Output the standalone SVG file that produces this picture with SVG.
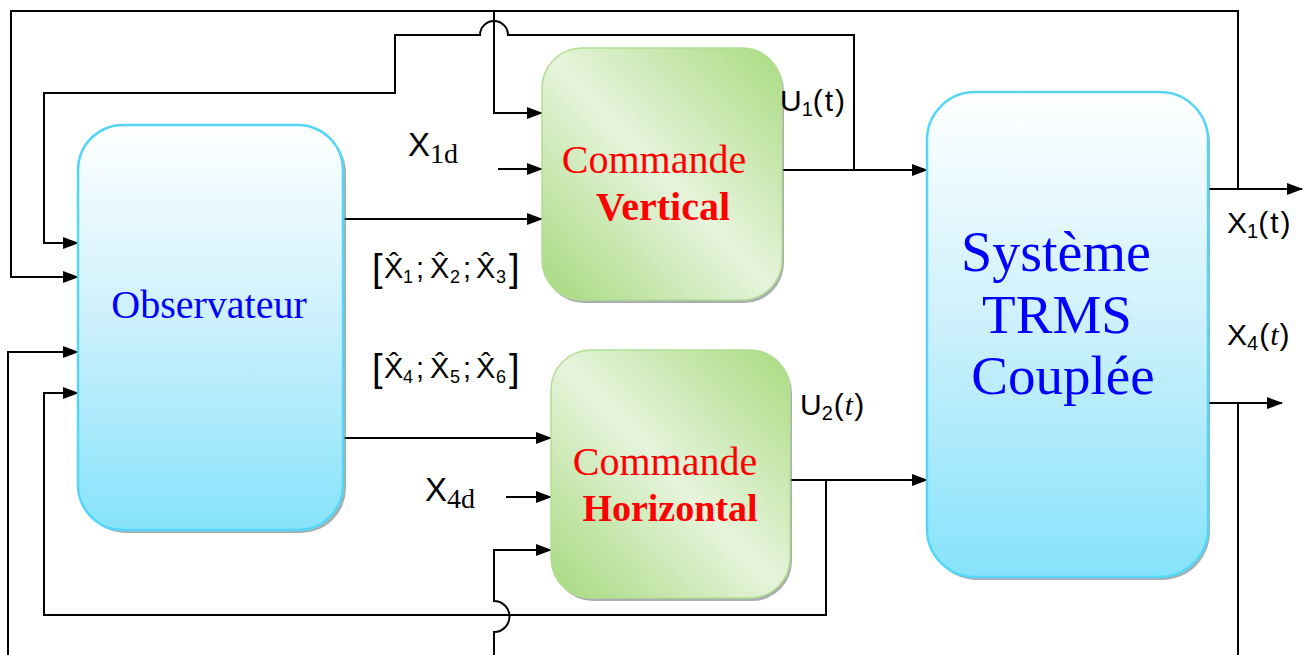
<svg xmlns="http://www.w3.org/2000/svg" width="1308" height="655" viewBox="0 0 1308 655">
<style>
.wire{fill:none;stroke:#000;stroke-width:2}
.arr{marker-end:url(#ah)}
.blue{stroke:#55d6f8;stroke-width:2.5}
.green{stroke:#b2de92;stroke-width:1.5}
.shadow{fill:#6f7a7b;opacity:.6}
.tnr{font-family:"Liberation Serif",serif}
.lbl{font-family:"Liberation Sans",sans-serif;fill:#000}
.sub{font-family:"Liberation Serif",serif}
</style>
<defs>
<marker id="ah" markerWidth="16" markerHeight="12" refX="15" refY="6" orient="auto" markerUnits="userSpaceOnUse">
<path d="M0,0 L16,6 L0,12 z" fill="#000"/>
</marker>
<linearGradient id="gB" x1="0" y1="0" x2="0" y2="1">
<stop offset="0" stop-color="#ffffff"/>
<stop offset="0.5" stop-color="#caf0fc"/>
<stop offset="1" stop-color="#86e3fb"/>
</linearGradient>
<linearGradient id="gG" x1="1" y1="0" x2="0" y2="1">
<stop offset="0" stop-color="#a9db80"/>
<stop offset="0.5" stop-color="#e6f4dc"/>
<stop offset="1" stop-color="#a6d97e"/>
</linearGradient>
</defs>

<g id="connectors">
<path class="wire arr" d="M1208,189 H1302"/>
<path class="wire arr" d="M1238,189 V11 H11 V277 H78"/>
<path class="wire arr" d="M494,11 V113 H542"/>
<path class="wire arr" d="M782,170 H927"/>
<path class="wire arr" d="M854,170 V35 H508 A14,14 0 0 0 480,35 H395 V93 H44 V243 H78"/>
<path class="wire arr" d="M343,219 H542"/>
<path class="wire arr" d="M498,169 H542"/>
<path class="wire arr" d="M343,438 H551"/>
<path class="wire arr" d="M506,497 H551"/>
<path class="wire arr" d="M790,480 H927"/>
<path class="wire arr" d="M826,480 V615 H44 V393 H78"/>
<path class="wire arr" d="M1208,403 H1282"/>
<path class="wire" d="M1238,403 V655"/>
<path class="wire arr" d="M8,655 V352 H78"/>
<path class="wire arr" d="M494,655 V632 A15.5,15.5 0 0 0 494,601 V550 H551"/>
</g>

<g id="observateur">
<rect class="shadow" x="81" y="128" width="265" height="405" rx="45"/>
<rect class="blue" x="78" y="125" width="265" height="405" rx="45" fill="url(#gB)"/>
<text class="tnr" x="209" y="318" font-size="40" fill="#0000ff" text-anchor="middle">Observateur</text>
</g>

<g id="commande-vertical">
<rect class="shadow" x="544" y="51" width="240" height="252" rx="40"/>
<rect class="green" x="542" y="48" width="240" height="252" rx="40" fill="url(#gG)"/>
<text class="tnr" x="654" y="173" font-size="40" fill="#ff0000" text-anchor="middle">Commande</text>
<text class="tnr" x="663" y="220" font-size="40" font-weight="bold" fill="#ff0000" text-anchor="middle">Vertical</text>
</g>

<g id="commande-horizontal">
<rect class="shadow" x="553" y="353" width="239" height="248" rx="40"/>
<rect class="green" x="551" y="350" width="239" height="248" rx="40" fill="url(#gG)"/>
<text class="tnr" x="665" y="475" font-size="40" fill="#ff0000" text-anchor="middle">Commande</text>
<text class="tnr" x="670" y="521" font-size="38" font-weight="bold" fill="#ff0000" text-anchor="middle">Horizontal</text>
</g>

<g id="systeme">
<rect class="shadow" x="929" y="95" width="281" height="485" rx="48"/>
<rect class="blue" x="927" y="92" width="281" height="485" rx="48" fill="url(#gB)"/>
<text class="tnr" x="1056" y="271" font-size="56" fill="#0000ff" text-anchor="middle">Système</text>
<text class="tnr" x="1057" y="333" font-size="55" fill="#0000ff" text-anchor="middle">TRMS</text>
<text class="tnr" x="1063" y="394" font-size="55" fill="#0000ff" text-anchor="middle">Couplée</text>
</g>

<g id="labels">
<text class="lbl" x="408" y="156" font-size="33">X<tspan class="sub" font-size="28" dy="7">1d</tspan></text>
<text class="lbl" x="425" y="501" font-size="33">X<tspan class="sub" font-size="28" dy="7">4d</tspan></text>
<text class="lbl" font-size="29" y="278"><tspan x="372" font-size="38" dy="3">[</tspan><tspan x="384" dy="-3">X̂</tspan><tspan x="403" font-size="18" dy="5">1</tspan><tspan x="416" dy="-5">;</tspan><tspan x="430">X̂</tspan><tspan x="450" font-size="18" dy="5">2</tspan><tspan x="463" dy="-5">;</tspan><tspan x="476">X̂</tspan><tspan x="496" font-size="18" dy="5">3</tspan><tspan x="509" font-size="38" dy="-2">]</tspan></text>
<text class="lbl" font-size="29" y="378"><tspan x="372" font-size="38" dy="3">[</tspan><tspan x="384" dy="-3">X̂</tspan><tspan x="403" font-size="18" dy="5">4</tspan><tspan x="416" dy="-5">;</tspan><tspan x="430">X̂</tspan><tspan x="450" font-size="18" dy="5">5</tspan><tspan x="463" dy="-5">;</tspan><tspan x="476">X̂</tspan><tspan x="496" font-size="18" dy="5">6</tspan><tspan x="509" font-size="38" dy="-2">]</tspan></text>
<text class="lbl" x="780" y="111" font-size="30">U<tspan font-size="20" dy="5">1</tspan><tspan dy="-5" letter-spacing="2">(t)</tspan></text>
<text class="lbl" x="800" y="415" font-size="30">U<tspan font-size="20" dy="5">2</tspan><tspan dy="-5" dx="1">(</tspan><tspan class="sub" font-style="italic" dx="1">t</tspan><tspan dx="1">)</tspan></text>
<text class="lbl" x="1227" y="233" font-size="30">X<tspan font-size="20" dy="5">1</tspan><tspan dy="-5" letter-spacing="2">(t)</tspan></text>
<text class="lbl" x="1227" y="345" font-size="30">X<tspan font-size="20" dy="5">4</tspan><tspan dy="-5" dx="1">(</tspan><tspan class="sub" font-style="italic" dx="1">t</tspan><tspan dx="1">)</tspan></text>
</g>
</svg>
